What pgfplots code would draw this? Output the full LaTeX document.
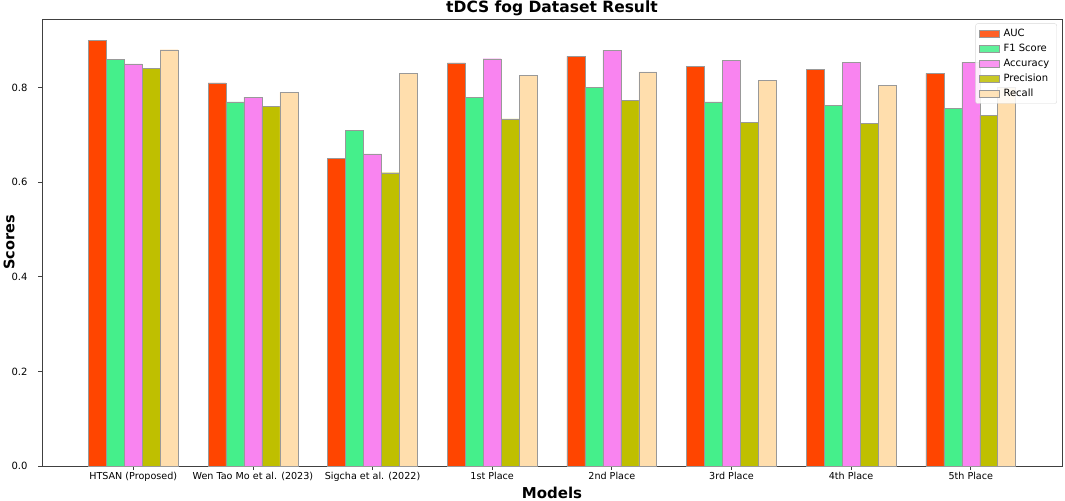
\documentclass[border=0pt]{standalone}
\usepackage{fontspec}
\setmainfont{DejaVu Sans}
\usepackage{pgfplots}
\pgfplotsset{compat=1.18}
\definecolor{cAUC}{HTML}{FF4500}
\definecolor{cF1}{HTML}{45EF8B}
\definecolor{cAcc}{HTML}{F984F0}
\definecolor{cPrec}{HTML}{BFBF00}
\definecolor{cRec}{HTML}{FFDEAD}
\begin{document}
\begin{tikzpicture}
\begin{axis}[
  name=ax,
  scale only axis,
  width=1020pt, height=447pt,
  xmin=-0.7625, xmax=7.7625,
  ymin=0, ymax=0.945,
  ybar,
  bar width=0.15,
  xtick={0,1,2,3,4,5,6,7},
  xticklabels={HTSAN (Proposed),Wen Tao Mo et al. (2023),Sigcha et al. (2022),1st Place,2nd Place,3rd Place,4th Place,5th Place},
  ytick={0,0.2,0.4,0.6,0.8},
  yticklabel style={/pgf/number format/fixed,/pgf/number format/precision=1,/pgf/number format/fixed zerofill, xshift=-7pt, font=\fontsize{10}{11}\selectfont},
  /pgf/number format/assume math mode=true,
  ticklabel style={font=\fontsize{9.6}{11}\selectfont},
  tick align=outside,
  tick pos=lower,
  major tick length=4pt,
  every tick/.style={black!75, line width=0.7pt},
  axis line style={black!75, line width=0.9pt},
  title={\bfseries tDCS fog Dataset Result},
  title style={font=\fontsize{15.5}{17}\selectfont, at={(0.5,1)}, anchor=base, inner sep=0pt},
  xlabel={\bfseries Models},
  ylabel={\bfseries Scores},
  xlabel style={font=\fontsize{15}{16}\selectfont, at={(0.5,0)}, anchor=base, inner sep=0pt, yshift=-32.5pt},
  ylabel style={font=\fontsize{14.5}{16}\selectfont, at={(0,0.5)}, anchor=center, inner sep=0pt, yshift=33pt},
  xticklabel style={yshift=1pt},
  legend style={at={(0.995,0.99)}, anchor=north east, draw=black!15, rounded corners=2pt, fill=white, fill opacity=0.85, text opacity=1, draw opacity=1, font=\fontsize{10}{11}\selectfont, row sep=2pt, inner sep=3.5pt, nodes={inner xsep=4pt}},
  legend cell align=left,
  legend image code/.code={\draw[#1, draw=gray!80, sharp corners] (0pt,-3.5pt) rectangle (20pt,3.5pt);},
]
\addplot[fill=cAUC, draw=gray!80, bar shift=-0.3] coordinates {(0,0.900) (1,0.810) (2,0.650) (3,0.852) (4,0.866) (5,0.845) (6,0.839) (7,0.830)};
\addplot[fill=cF1, draw=gray!80, bar shift=-0.15] coordinates {(0,0.860) (1,0.770) (2,0.710) (3,0.779) (4,0.801) (5,0.770) (6,0.762) (7,0.756)};
\addplot[fill=cAcc, draw=gray!80, bar shift=0] coordinates {(0,0.850) (1,0.780) (2,0.660) (3,0.861) (4,0.879) (5,0.857) (6,0.854) (7,0.854)};
\addplot[fill=cPrec, draw=gray!80, bar shift=0.15] coordinates {(0,0.840) (1,0.760) (2,0.620) (3,0.734) (4,0.773) (5,0.727) (6,0.724) (7,0.741)};
\addplot[fill=cRec, draw=gray!80, bar shift=0.3] coordinates {(0,0.880) (1,0.790) (2,0.830) (3,0.826) (4,0.833) (5,0.816) (6,0.804) (7,0.800)};
\legend{AUC,F1 Score,Accuracy,Precision,Recall}
\end{axis}
\useasboundingbox ([xshift=-42pt,yshift=-34pt]ax.south west) rectangle ([xshift=3pt,yshift=19pt]ax.north east);
\end{tikzpicture}
\end{document}
